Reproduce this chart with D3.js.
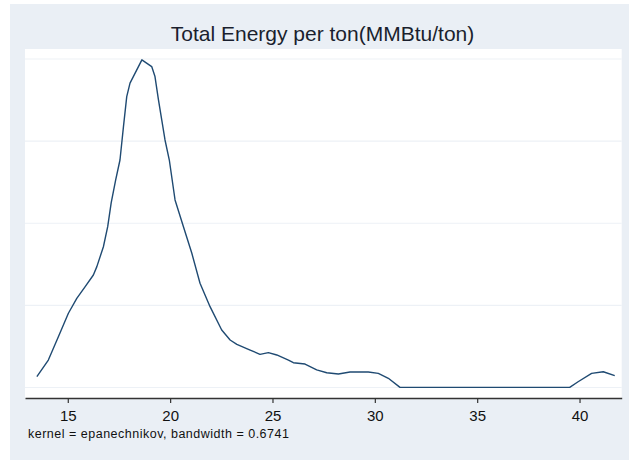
<!DOCTYPE html>
<html>
<head>
<meta charset="utf-8">
<script src="https://cdn.jsdelivr.net/npm/d3@7"></script>
<style>
  body { margin: 0; background: #ffffff; }
  svg { display: block; }
</style>
</head>
<body>
<div id="chart"></div>
<script>
// Density estimate (MMBtu/ton, density)
var energy = [13.49, 14.05, 14.54, 15.03, 15.44, 15.85, 16.25, 16.42, 16.74, 16.95,
  17.12, 17.34, 17.55, 17.72, 17.88, 18.04, 18.62, 19.10, 19.26, 19.43,
  19.59, 19.75, 19.96, 20.24, 20.65, 21.06, 21.46, 21.95, 22.52, 22.93,
  23.26, 23.91, 24.39, 24.80, 25.21, 25.78, 26.02, 26.59, 27.16, 27.65,
  28.22, 28.79, 29.68, 30.17, 30.66, 31.23, 39.52, 39.93, 40.59, 41.16, 41.72];
var density = [0.0066, 0.0167, 0.0309, 0.0452, 0.0543, 0.0614, 0.0685, 0.0736, 0.0857, 0.0979,
  0.1124, 0.1264, 0.1385, 0.1588, 0.1771, 0.1853, 0.1995, 0.1954, 0.1893, 0.1751,
  0.1629, 0.1507, 0.1385, 0.1142, 0.0979, 0.0817, 0.0635, 0.0492, 0.0350, 0.0289,
  0.0263, 0.0228, 0.0202, 0.0212, 0.0198, 0.0167, 0.0151, 0.0143, 0.0107, 0.0090,
  0.0082, 0.0094, 0.0094, 0.0086, 0.0056, 0.0001, 0.0001, 0.0035, 0.0086, 0.0096, 0.0072];
var xTicks = [15, 20, 25, 30, 35, 40];
var yGrid = [0, 0.05, 0.1, 0.15, 0.2];
var title = 'Total Energy per ton(MMBtu/ton)';
var note = 'kernel = epanechnikov, bandwidth = 0.6741';

var width = 629, height = 460;
var plot = { left: 25, right: 621.7, top: 49, bottom: 398 };

var svg = d3.select('#chart').append('svg')
  .attr('width', width)
  .attr('height', height);

// outer graph region
svg.append('rect')
  .attr('x', 10).attr('y', 4)
  .attr('width', width - 10).attr('height', height - 4)
  .attr('fill', '#eaeff5');

svg.append('rect')
  .attr('x', plot.left).attr('y', plot.top)
  .attr('width', plot.right - plot.left).attr('height', plot.bottom - plot.top)
  .attr('fill', '#ffffff');

var x = d3.scaleLinear().domain([12.91, 42.06]).range([plot.left, plot.right]);
var y = d3.scaleLinear().domain([-0.0064, 0.2061]).range([plot.bottom, plot.top]);

// grid lines
svg.append('g').selectAll('line')
  .data(yGrid)
  .join('line')
    .attr('x1', plot.left).attr('x2', plot.right)
    .attr('y1', d => y(d)).attr('y2', d => y(d))
    .attr('stroke', '#edf1f6')
    .attr('stroke-width', 1.2);

// density curve, straight segments like the original
var pts = energy.map((d, i) => [d, density[i]]);
var line = d3.line()
  .x(d => x(d[0]))
  .y(d => y(d[1]));

svg.append('path')
  .datum(pts)
  .attr('d', line)
  .attr('fill', 'none')
  .attr('stroke', '#1f4a72')
  .attr('stroke-width', 1.4)
  .attr('stroke-linejoin', 'round');

// x axis
var xAxis = d3.axisBottom(x)
  .tickValues(xTicks)
  .tickSize(5)
  .tickPadding(7)
  .tickSizeOuter(0);

var gx = svg.append('g')
  .attr('transform', 'translate(0,' + plot.bottom + ')')
  .call(xAxis);
gx.select('.domain')
  .attr('stroke', '#333333')
  .attr('stroke-width', 1.5);
gx.selectAll('.tick line')
  .attr('stroke', '#333333')
  .attr('stroke-width', 1.2);
gx.selectAll('.tick text')
  .attr('fill', '#111111')
  .style('font-family', '"Liberation Sans", Arial, sans-serif')
  .style('font-size', '15px');

// title and note
svg.append('text')
  .attr('x', 322.5)
  .attr('y', 41)
  .attr('text-anchor', 'middle')
  .attr('fill', '#1a1f2e')
  .style('font-family', '"Liberation Sans", Arial, sans-serif')
  .style('font-size', '21px')
  .text(title);

svg.append('text')
  .attr('x', 28)
  .attr('y', 438)
  .attr('fill', '#111111')
  .style('font-family', '"Liberation Sans", Arial, sans-serif')
  .style('font-size', '12.5px')
  .style('letter-spacing', '0.5px')
  .text(note);
</script>
</body>
</html>
